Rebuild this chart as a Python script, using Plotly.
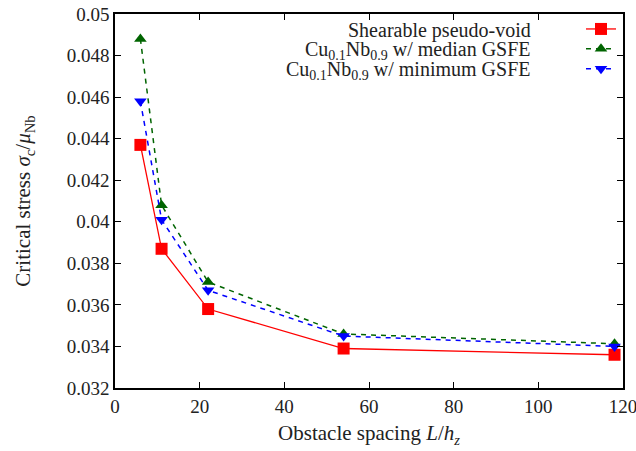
import plotly.graph_objects as go

spacing = [6, 11, 22, 54, 118]
pseudo_void = [0.0437, 0.0387, 0.0358, 0.0339, 0.0336]
median_gsfe = [0.0488, 0.0408, 0.0371, 0.0346, 0.03413]
minimum_gsfe = [0.0458, 0.0401, 0.0367, 0.0345, 0.0340]

labels = [
    "Shearable pseudo-void",
    "Cu<sub>0.1</sub>Nb<sub>0.9</sub> w/ median GSFE",
    "Cu<sub>0.1</sub>Nb<sub>0.9</sub> w/ minimum GSFE",
]
xticks = [0, 20, 40, 60, 80, 100, 120]
yticks = [0.032, 0.034, 0.036, 0.038, 0.04, 0.042, 0.044, 0.046, 0.048, 0.05]
yticktext = ["0.032", "0.034", "0.036", "0.038", "0.04", "0.042", "0.044", "0.046", "0.048", "0.05"]

FONT = "Liberation Serif"
TXT = "#222222"

fig = go.Figure()
fig.add_trace(go.Scatter(x=spacing, y=pseudo_void, mode="lines+markers", name=" ",
                         line=dict(color="#ff0000", width=1.3),
                         marker=dict(symbol="square", size=12, color="#ff0000")))
fig.add_trace(go.Scatter(x=spacing, y=median_gsfe, mode="lines+markers", name=" ",
                         line=dict(color="#006400", width=1.5, dash="5px,5px"),
                         marker=dict(symbol="triangle-up", size=11, color="#006400")))
fig.add_trace(go.Scatter(x=spacing, y=minimum_gsfe, mode="lines+markers", name=" ",
                         line=dict(color="#0000ff", width=1.5, dash="5px,5px"),
                         marker=dict(symbol="triangle-down", size=11, color="#0000ff")))

# legend labels (right-aligned to the left of the legend samples)
label_rows = [31, 51, 71]
for lab, row in zip(labels, label_rows):
    fig.add_annotation(xref="paper", yref="paper", x=(533 - 115) / 508,
                       y=1 - (row - 14) / 374, text=lab, showarrow=False,
                       xanchor="right", yanchor="middle",
                       font=dict(family=FONT, size=20, color=TXT))

axis_common = dict(showline=True, linecolor="black", linewidth=1.5, mirror="ticks",
                   ticks="inside", ticklen=6, tickwidth=1, tickcolor="black",
                   showgrid=False, zeroline=False, ticklabeloverflow="allow",
                   tickfont=dict(family=FONT, size=19, color=TXT))

fig.update_layout(
    width=636, height=451,
    margin=dict(l=115, r=13, t=14, b=63, autoexpand=False),
    paper_bgcolor="white", plot_bgcolor="white",
    showlegend=True,
    legend=dict(x=(630 - 115) / 508, y=1.0, xanchor="right", yanchor="top",
                bgcolor="rgba(0,0,0,0)", font=dict(family=FONT, size=13),
                tracegroupgap=0, itemwidth=30),
    xaxis=dict(range=[0, 120], tickvals=xticks,
               title=dict(text="Obstacle spacing <i>L</i>/<i>h<sub>z</sub></i>",
                          font=dict(family=FONT, size=21, color=TXT), standoff=10),
               **axis_common),
    yaxis=dict(range=[0.032, 0.05], tickvals=yticks, ticktext=yticktext,
               title=dict(text="Critical stress <i>σ</i><sub>c</sub>/<i>μ</i><sub>Nb</sub>",
                          font=dict(family=FONT, size=21, color=TXT), standoff=30),
               **axis_common),
)

fig.write_html("out.html")
